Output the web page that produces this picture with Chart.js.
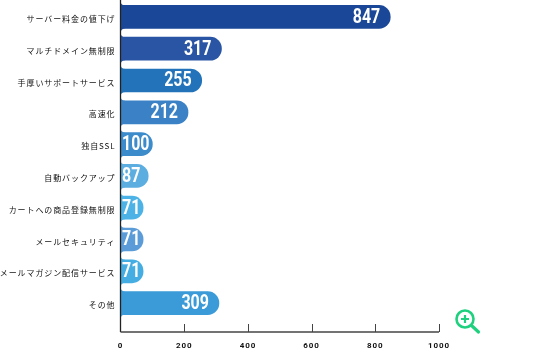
<!DOCTYPE html>
<html>
<head>
<meta charset="utf-8">
<style>
	html, body { margin: 0; padding: 0; background: #fff; }
	#wrap { position: relative; width: 560px; height: 360px; overflow: hidden; }
	#zoomIcon { position: absolute; left: 454px; top: 307px; }
</style>
</head>
<body>
<div id="wrap">
	<canvas id="chart" width="560" height="360"></canvas>
	<svg id="zoomIcon" width="28" height="28" viewBox="0 0 28 28">
		<circle cx="11" cy="12" r="8.5" fill="none" stroke="#1fd17f" stroke-width="2.6"/>
		<path d="M7 12h8M11 8v8" stroke="#1fd17f" stroke-width="2.2" fill="none"/>
		<path d="M17.5 18.5L24.5 25" stroke="#1fd17f" stroke-width="3.2" stroke-linecap="round" fill="none"/>
	</svg>
</div>
<script src="https://cdn.jsdelivr.net/npm/chart.js@4"></script>
<script>
const categories = [
	'サーバー料金の値下げ',
	'マルチドメイン無制限',
	'手厚いサポートサービス',
	'高速化',
	'独自SSL',
	'自動バックアップ',
	'カートへの商品登録無制限',
	'メールセキュリティ',
	'メールマガジン配信サービス',
	'その他'
];
const values = [847, 317, 255, 212, 100, 87, 71, 71, 71, 309];
const barColors = ['#1a4798', '#2a55a4', '#2273b9', '#3a82c5', '#3c8bcb', '#5cade0', '#4db3e6', '#5b9bd8', '#45ade2', '#3a9bd8'];
const xTicks = [0, 200, 400, 600, 800, 1000];

// the x axis sits a bit below the last category, so axes are drawn here
const axisDrop = 13;

const barExtras = {
	id: 'barExtras',
	beforeDraw(chart) {
		chart.ctx.letterSpacing = '0.9px';
	},
	afterDatasetsDraw(chart) {
		const ctx = chart.ctx;
		const meta = chart.getDatasetMeta(0);
		const xScale = chart.scales.x;
		const area = chart.chartArea;
		const axisY = area.bottom + axisDrop;
		const r = 5;

		ctx.save();
		// flared corners on the left of each bar
		meta.data.forEach((bar, i) => {
			const top = bar.y - bar.height / 2;
			const bottom = bar.y + bar.height / 2;
			ctx.fillStyle = barColors[i];
			ctx.beginPath();
			ctx.moveTo(bar.base, top - r);
			ctx.quadraticCurveTo(bar.base, top, bar.base + r, top);
			ctx.lineTo(bar.base, top + 1);
			ctx.fill();
			ctx.beginPath();
			ctx.moveTo(bar.base, bottom + r);
			ctx.quadraticCurveTo(bar.base, bottom, bar.base + r, bottom);
			ctx.lineTo(bar.base, bottom - 1);
			ctx.fill();
		});

		// axes
		ctx.strokeStyle = '#222';
		ctx.lineWidth = 1.3;
		ctx.beginPath();
		ctx.moveTo(area.left, 0);
		ctx.lineTo(area.left, axisY);
		ctx.stroke();
		ctx.strokeStyle = '#444';
		ctx.beginPath();
		ctx.moveTo(area.left, axisY);
		ctx.lineTo(area.right, axisY);
		ctx.stroke();
		ctx.lineWidth = 1;
		xTicks.slice(1).forEach(v => {
			const x = Math.round(xScale.getPixelForValue(v)) + 0.5;
			ctx.beginPath();
			ctx.moveTo(x, axisY);
			ctx.lineTo(x, axisY - 8);
			ctx.stroke();
		});

		// values inside the bars, squeezed to look condensed
		const squeeze = 0.82;
		ctx.letterSpacing = '0px';
		ctx.fillStyle = '#fff';
		ctx.font = 'bold 19.5px Roboto, sans-serif';
		ctx.textAlign = 'left';
		ctx.textBaseline = 'middle';
		meta.data.forEach((bar, i) => {
			const label = String(values[i]);
			const w = ctx.measureText(label).width * squeeze;
			const left = Math.max(bar.x - 10 - w, bar.base + 1.5);
			ctx.save();
			ctx.translate(left, bar.y + 1);
			ctx.scale(squeeze, 1);
			ctx.fillText(label, 0, 0);
			ctx.restore();
		});
		ctx.restore();
	}
};

new Chart(document.getElementById('chart'), {
	type: 'bar',
	data: {
		labels: categories,
		datasets: [{
			data: values,
			backgroundColor: barColors,
			borderWidth: 0,
			borderSkipped: false,
			borderRadius: { topLeft: 0, bottomLeft: 0, topRight: 11.5, bottomRight: 11.5 },
			barThickness: 23
		}]
	},
	options: {
		indexAxis: 'y',
		responsive: false,
		animation: false,
		layout: { padding: { top: 1, right: 121, left: 0, bottom: 0 } },
		plugins: { legend: { display: false }, tooltip: { enabled: false } },
		scales: {
			x: {
				min: 0,
				max: 1000,
				afterBuildTicks(scale) {
					scale.ticks = xTicks.map(v => ({ value: v }));
				},
				afterFit(scale) {
					scale.height = 41;
					scale.paddingLeft = 0;
					scale.paddingRight = 0;
				},
				grid: { display: false },
				border: { display: false },
				ticks: {
					autoSkip: false,
					maxRotation: 0,
					padding: 14,
					color: '#111',
					callback: v => String(v),
					font: { family: 'Roboto, sans-serif', size: 8, weight: 'bold' }
				}
			},
			y: {
				afterFit(scale) {
					scale.width = 120.5;
					scale.paddingTop = 0;
					scale.paddingBottom = 0;
				},
				grid: { display: false, tickLength: 0 },
				border: { display: false },
				ticks: {
					autoSkip: false,
					padding: 5,
					labelOffset: 2,
					color: '#111',
					font: { family: '"Noto Sans CJK JP", sans-serif', size: 8 }
				}
			}
		}
	},
	plugins: [barExtras]
});
</script>
</body>
</html>
